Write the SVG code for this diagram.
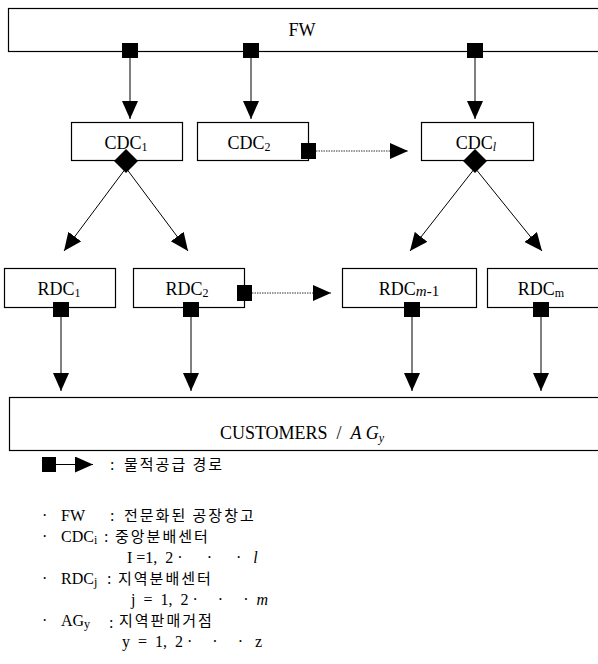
<svg xmlns="http://www.w3.org/2000/svg" width="598" height="664" viewBox="0 0 598 664">
<style>
.box{fill:#fff;stroke:#000;stroke-width:1.2}
.ln{stroke:#000;stroke-width:1;fill:none}
.dot{stroke:#333;stroke-width:1;stroke-dasharray:1.5,1;fill:none}
.sq{fill:#000}
.t{font-family:"Liberation Serif","Noto Sans CJK KR",serif;font-size:18px;fill:#000}
.l{font-family:"Liberation Serif",serif;font-size:16px;fill:#000}
.k{font-family:"Noto Sans CJK KR","Liberation Serif",sans-serif;font-size:15px;fill:#000;letter-spacing:2px}
.sub{font-size:12px}
</style>
<defs>
<marker id="ah" markerUnits="userSpaceOnUse" markerWidth="19" markerHeight="17" refX="18" refY="8" orient="auto">
<path d="M0,0 L18,8 L0,16 z" fill="#000"/>
</marker>
</defs>

<g id="FW"><rect class="box" x="8.5" y="8.5" width="600" height="43"/><text class="t" x="302" y="36" text-anchor="middle">FW</text></g>

<g id="CDC1"><rect class="box" x="71.5" y="122.5" width="111" height="38"/><text class="t" x="126" y="149" text-anchor="middle">CDC<tspan class="sub" dy="2">1</tspan></text></g>
<g id="CDC2"><rect class="box" x="197.5" y="122.5" width="111" height="38"/><text class="t" x="249" y="149" text-anchor="middle">CDC<tspan class="sub" dy="2">2</tspan></text></g>
<g id="CDCl"><rect class="box" x="421.5" y="122.5" width="112" height="38"/><text class="t" x="476" y="149" text-anchor="middle">CDC<tspan class="sub" font-style="italic" dy="2">l</tspan></text></g>

<g id="RDC1"><rect class="box" x="4.5" y="268.5" width="111" height="39"/><text class="t" x="59" y="295" text-anchor="middle">RDC<tspan class="sub" dy="2">1</tspan></text></g>
<g id="RDC2"><rect class="box" x="133.5" y="268.5" width="111" height="39"/><text class="t" x="187" y="295" text-anchor="middle">RDC<tspan class="sub" dy="2">2</tspan></text></g>
<g id="RDCm1"><rect class="box" x="342.5" y="268.5" width="134" height="39"/><text class="t" x="409" y="295" text-anchor="middle">RDC<tspan font-size="15" font-style="italic" dy="1">m</tspan><tspan font-size="15">-1</tspan></text></g>
<g id="RDCm"><rect class="box" x="487.5" y="268.5" width="112" height="39"/><text class="t" x="541" y="295" text-anchor="middle">RDC<tspan class="sub" dy="2">m</tspan></text></g>

<g id="CUSTOMERS"><rect class="box" x="9.5" y="397.5" width="600" height="53"/><text class="t" x="302" y="439" font-size="19" text-anchor="middle" xml:space="preserve">CUSTOMERS  /  <tspan font-style="italic">A G</tspan><tspan class="sub" font-style="italic" dy="3">y</tspan></text></g>

<g id="connectors">
<line class="ln" x1="130" y1="55" x2="130" y2="119" marker-end="url(#ah)"/>
<line class="ln" x1="251" y1="55" x2="251" y2="119" marker-end="url(#ah)"/>
<line class="ln" x1="475" y1="55" x2="475" y2="119" marker-end="url(#ah)"/>
<rect class="sq" x="122" y="43" width="16" height="15"/>
<rect class="sq" x="243" y="43" width="16" height="15"/>
<rect class="sq" x="467" y="43" width="16" height="15"/>

<line class="dot" x1="316" y1="151" x2="408" y2="151" marker-end="url(#ah)"/>
<rect class="sq" x="301" y="143" width="15" height="16"/>

<line class="ln" x1="126" y1="168" x2="64" y2="251" marker-end="url(#ah)"/>
<line class="ln" x1="126" y1="168" x2="188" y2="251" marker-end="url(#ah)"/>
<line class="ln" x1="475" y1="168" x2="410" y2="251" marker-end="url(#ah)"/>
<line class="ln" x1="475" y1="168" x2="542" y2="251" marker-end="url(#ah)"/>
<path class="sq" d="M126,149 L138,161 L126,173 L114,161 z"/>
<path class="sq" d="M475,149 L487,161 L475,173 L463,161 z"/>

<line class="dot" x1="252" y1="293" x2="331" y2="293" marker-end="url(#ah)"/>
<rect class="sq" x="237" y="285" width="15" height="16"/>

<line class="ln" x1="61" y1="315" x2="61" y2="391" marker-end="url(#ah)"/>
<line class="ln" x1="191" y1="315" x2="191" y2="391" marker-end="url(#ah)"/>
<line class="ln" x1="412" y1="315" x2="412" y2="391" marker-end="url(#ah)"/>
<line class="ln" x1="541" y1="315" x2="541" y2="391" marker-end="url(#ah)"/>
<rect class="sq" x="53" y="302" width="16" height="15"/>
<rect class="sq" x="183" y="302" width="16" height="15"/>
<rect class="sq" x="404" y="302" width="16" height="15"/>
<rect class="sq" x="533" y="302" width="16" height="15"/>
</g>

<g id="legend">
<rect class="sq" x="42" y="457" width="14" height="15"/>
<line class="ln" x1="56" y1="464.5" x2="93" y2="464.5" marker-end="url(#ah)"/>
<text class="l" x="110" y="470">:</text><text class="k" x="124" y="470" xml:space="preserve">물적공급 경로</text>

<text class="l" x="42" y="521">·</text><text class="l" x="61" y="521">FW</text><text class="l" x="110" y="521">:</text><text class="k" x="124" y="521" xml:space="preserve">전문화된 공장창고</text>

<text class="l" x="42" y="542">·</text><text class="l" x="61" y="542">CDC<tspan class="sub" dy="2">i</tspan></text><text class="l" x="104" y="542">:</text><text class="k" x="115" y="542">중앙분배센터</text>

<text class="l" x="127" y="563" xml:space="preserve">I =1,  2 ·      ·      ·   <tspan font-style="italic">l</tspan></text>

<text class="l" x="42" y="584">·</text><text class="l" x="61" y="584">RDC<tspan class="sub" dy="2">j</tspan></text><text class="l" x="107" y="584">:</text><text class="k" x="118" y="584">지역분배센터</text>

<text class="l" x="131" y="605" xml:space="preserve">j  =  1,  2 ·     ·     ·  <tspan font-style="italic">m</tspan></text>

<text class="l" x="42" y="626">·</text><text class="l" x="61" y="626">AG<tspan class="sub" dy="2">y</tspan></text><text class="l" x="109" y="628" font-size="11">:</text><text class="k" x="119" y="626">지역판매거점</text>

<text class="l" x="122" y="647" xml:space="preserve">y  =  1,  2 ·     ·     ·   z</text>
</g>
</svg>
